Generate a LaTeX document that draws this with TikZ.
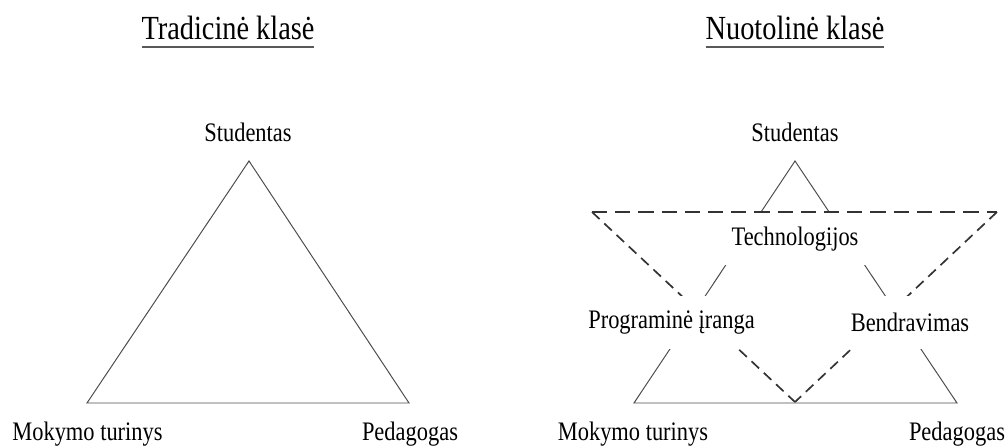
\documentclass[tikz,border=0pt]{standalone}
\usepackage{fontspec}
\setmainfont{Liberation Serif}[FakeStretch=0.84]
\newcommand{\thickul}[1]{\setbox0=\hbox{#1}\rlap{\color{black!65}\rule[-6pt]{\wd0}{1.4pt}}\box0}

\begin{document}
\begin{tikzpicture}[x=0.025cm, y=-0.025cm]
	    \tikzset{
	      side/.style={draw=black!70, line width=0.7pt},
	      topdash/.style={draw=black!80, line width=1.9pt, dash pattern=on 0.38cm off 0.2cm},
	      slantdash/.style={draw=black!80, line width=1.2pt, dash pattern=on 0.26cm off 0.16cm},
	      lbl/.style={font=\fontsize{19}{22}\selectfont, inner sep=0pt},
	      ttl/.style={font=\fontsize{24}{28}\selectfont, inner sep=0pt},
	      mask/.style={lbl, fill=white, minimum height=1.32cm}
	    }
	    \useasboundingbox (0,0) rectangle (1008,446);
	    % titles
	    \node[ttl, anchor=base] (t1) at (228,40) {\thickul{Tradicinė klasė}};
	    \node[ttl, anchor=base] (t2) at (795,40) {\thickul{Nuotolinė klasė}};
	    % tradicine klase
	    \coordinate (a1) at (249,161);
	    \coordinate (b1) at (87,403);
	    \coordinate (c1) at (409,403);
	    \draw[side] (a1) -- (b1) -- (c1) -- cycle;
	    \node[lbl, anchor=base] (stud1) at (248,142) {Studentas};
	    \node[lbl, anchor=base] (mok1) at (87.5,440) {Mokymo turinys};
	    \node[lbl, anchor=base] (ped1) at (410,440) {Pedagogas};
	    % nuotoline klase
	    \coordinate (a2) at (795,161);
	    \coordinate (b2) at (634,403);
	    \coordinate (c2) at (957,403);
	    \coordinate (d1) at (592,212);
	    \coordinate (d2) at (997,212);
	    \coordinate (d3) at (795,402);
	    \draw[side] (a2) -- (b2) -- (c2) -- cycle;
	    \draw[slantdash] (d1) -- (d3);
	    \draw[slantdash] (d2) -- (d3);
	    \node[lbl, anchor=base] (stud2) at (795,142) {Studentas};
	    \node[lbl, anchor=base] (mok2) at (633,440) {Mokymo turinys};
	    \node[lbl, anchor=base] (ped2) at (957,440) {Pedagogas};
	    \node[mask, minimum width=3.65cm, minimum height=1.3cm] (tech) at (795,239) {Technologijos};
	    \node[mask, minimum width=4.33cm] (prog) at (671.5,322.5) {Programinė įranga};
	    \node[mask, minimum width=3.1cm] (bend) at (910,322.5) {Bendravimas};
	    \draw[topdash] (d1) -- (d2);
	    % \draw[side] (b2) -- (c2);
\end{tikzpicture}
\end{document}
